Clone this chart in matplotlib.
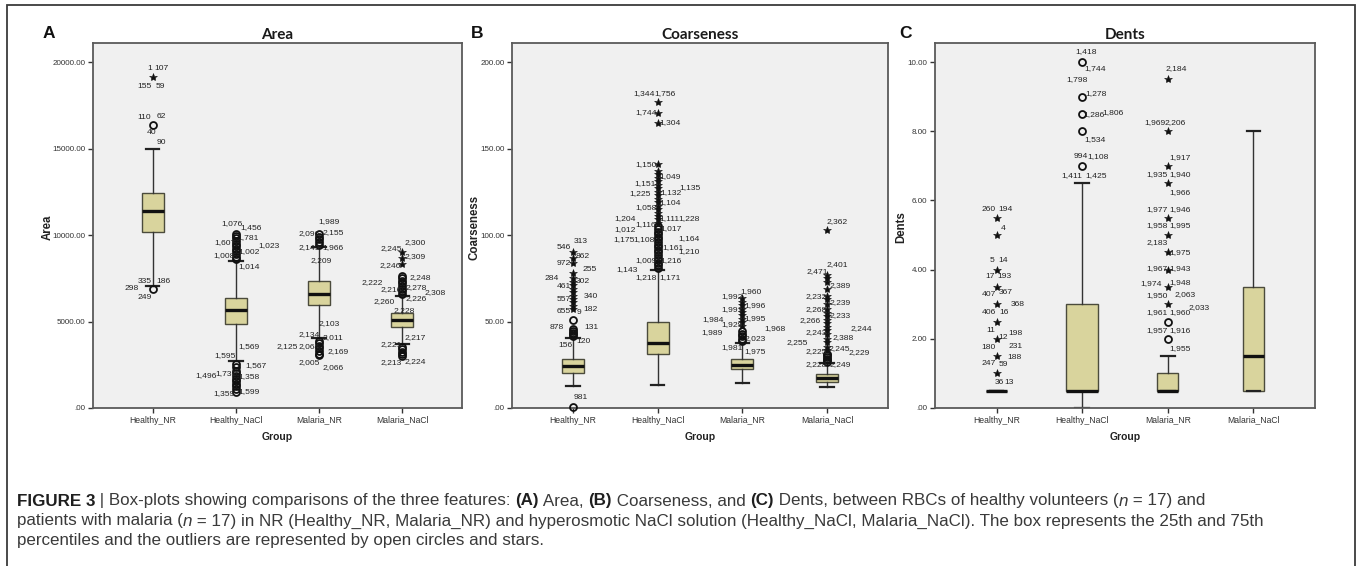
import matplotlib
matplotlib.use('Agg')
import matplotlib.pyplot as plt
from matplotlib.patches import Rectangle

groups = ['Healthy_NR', 'Healthy_NaCl', 'Malaria_NR', 'Malaria_NaCl']

# ---------------- Area ----------------
area_whislo = [7050, 2700, 4050, 3700]
area_q1 = [10170, 4860, 5950, 4680]
area_med = [11390, 5670, 6590, 5090]
area_q3 = [12430, 6360, 7340, 5490]
area_whishi = [15000, 8500, 9300, 6450]
area_circles = [
    [6900, 16350],
    [8600, 8750, 8900, 9050, 9200, 9350, 9500, 9650, 9800, 9950, 10050,
     2550, 2350, 2150, 2000, 1850, 1700, 1550, 1400, 1250, 1100, 950],
    [9450, 9600, 9750, 9900, 10050, 3900, 3750, 3600, 3450, 3300, 3150, 3050],
    [6600, 6750, 6900, 7050, 7200, 7350, 7500, 7650, 3550, 3400, 3250, 3100, 3000],
]
area_stars = [[19130], [], [], [8320, 8670, 9020]]
area_labels = [
    (0, '1', 19650, -5), (0, '107', 19650, 2), (0, '155', 18610, -15), (0, '59', 18610, 3),
    (0, '110', 16820, -15), (0, '62', 16880, 4), (0, '40', 15900, -6), (0, '90', 15370, 4),
    (0, '335', 7340, -15), (0, '186', 7340, 4), (0, '298', 6880, -28), (0, '249', 6360, -15),
    (1, '1,076', 10690, -15), (1, '1,456', 10460, 4), (1, '1,607', 9590, -22), (1, '1,781', 9830, 1),
    (1, '1,023', 9420, 22), (1, '1,002', 9070, 2), (1, '1,008', 8790, -23), (1, '1,014', 8150, 2),
    (1, '1,569', 3580, 2), (1, '1,595', 3060, -22), (1, '1,567', 2430, 9), (1, '1,496', 1850, -41),
    (1, '1,731', 2020, -21), (1, '1,358', 1790, 2), (1, '1,599', 980, 2), (1, '1,359', 810, -23),
    (2, '1,989', 10750, -1), (2, '2,096', 10060, -21), (2, '2,155', 10120, 3), (2, '2,149', 9250, -21),
    (2, '1,966', 9250, 3), (2, '2,209', 8550, -9), (2, '2,103', 4910, -1), (2, '2,134', 4220, -21),
    (2, '2,011', 4050, 3), (2, '2,125', 3530, -43), (2, '2,064', 3530, -21), (2, '2,169', 3290, 8),
    (2, '2,005', 2600, -21), (2, '2,066', 2310, 3),
    (3, '2,245', 9190, -22), (3, '2,300', 9540, 2), (3, '2,309', 8730, 2), (3, '2,246', 8210, -23),
    (3, '2,248', 7570, 7), (3, '2,222', 7280, -41), (3, '2,216', 6820, -22), (3, '2,278', 6940, 3),
    (3, '2,308', 6700, 22), (3, '2,260', 6130, -29), (3, '2,226', 6300, 3), (3, '2,228', 5660, -9),
    (3, '2,217', 4100, 2), (3, '2,221', 3640, -22), (3, '2,213', 2600, -22), (3, '2,224', 2660, 2),
]
area_ticks = [0, 5000, 10000, 15000, 20000]
area_ticklabels = ['.00', '5000.00', '10000.00', '15000.00', '20000.00']

# ---------------- Coarseness ----------------
coarse_whislo = [12.7, 13.3, 14.5, 12.0]
coarse_q1 = [20.2, 31.2, 22.5, 15.2]
coarse_med = [24.3, 37.6, 24.9, 17.3]
coarse_q3 = [28.3, 49.7, 28.3, 19.6]
coarse_whishi = [40.5, 79.5, 37.5, 26.0]
coarse_circles = [
    [0.5, 41.5, 42.5, 43.5, 44.5, 45.5, 51],
    [81, 82.5, 84, 85.5, 87, 88.5, 90, 91.5, 93, 94.5, 96, 97.5, 99, 100.5, 102, 103.5, 105],
    [38.5, 40, 41.5, 43, 44.5],
    [26.5, 27.5, 28.5, 29.5, 30.5, 31.5],
]
coarse_stars = [
    [57.5, 59, 61, 63, 65, 67, 69, 71, 73, 75, 78, 84, 87, 90],
    [107, 109, 111, 113, 115, 117, 119, 121, 123, 125, 127, 129, 131, 133, 135, 137, 141,
     165, 170.5, 177],
    [47.5, 49.5, 51.5, 53.5, 55.5, 57.5, 59.5, 61.5, 63.5],
    [33.5, 35.5, 38, 40, 43, 45, 47, 49, 51, 53, 55, 57, 60, 63, 65, 69, 73, 75, 77, 103],
]
coarse_labels = [
    (0, '546', 93, -16), (0, '313', 96.5, 1), (0, '862', 87.3, 3), (0, '972', 83.8, -16),
    (0, '255', 80.3, 10), (0, '284', 74.6, -28), (0, '461', 70.5, -16), (0, '302', 73.4, 3),
    (0, '557', 63, -16), (0, '340', 64.2, 11), (0, '655', 56, -16), (0, '9', 55, 4),
    (0, '182', 57.2, 10), (0, '878', 46.8, -23), (0, '131', 46.8, 11), (0, '156', 36.4, -15),
    (0, '120', 38.2, 3), (0, '981', 5.8, 1),
    (1, '1,344', 182, -24), (1, '1,756', 182, -3), (1, '1,744', 171, -22), (1, '1,304', 165, 2),
    (1, '1,150', 141, -22), (1, '1,049', 134, 2), (1, '1,151', 130, -23), (1, '1,225', 123.7, -28),
    (1, '1,132', 124.3, 3), (1, '1,135', 127.7, 22), (1, '1,058', 115.6, -22), (1, '1,104', 118.5, 2),
    (1, '1,204', 109.8, -43), (1, '1,116', 105.8, -22), (1, '1,111', 109.8, 2), (1, '1,228', 109.8, 21),
    (1, '1,012', 102.9, -43), (1, '1,017', 103.5, 3), (1, '1,175', 97.1, -44), (1, '1,108', 97.1, -24),
    (1, '1,164', 97.7, 21), (1, '1,161', 93, 5), (1, '1,210', 90.2, 21), (1, '1,009', 85.5, -22),
    (1, '1,216', 85.5, 3), (1, '1,143', 80.3, -41), (1, '1,218', 75.7, -22), (1, '1,171', 75.7, 2),
    (2, '1,960', 67.6, -2), (2, '1,992', 64.2, -21), (2, '1,996', 59.5, 2), (2, '1,991', 57.2, -21),
    (2, '1,995', 52, 2), (2, '1,984', 50.9, -40), (2, '1,929', 48, -21), (2, '1,968', 45.7, 22),
    (2, '1,989', 43.4, -41), (2, '2,023', 39.9, 2), (2, '1,981', 34.7, -21), (2, '1,975', 32.4, 2),
    (3, '2,362', 108, -1), (3, '2,471', 78.6, -21), (3, '2,401', 82.7, -1), (3, '2,389', 70.5, 2),
    (3, '2,232', 64.2, -22), (3, '2,239', 60.7, 2), (3, '2,268', 57.2, -22), (3, '2,233', 53.2, 2),
    (3, '2,266', 50.3, -28), (3, '2,244', 46.2, 23), (3, '2,243', 43.4, -22), (3, '2,388', 41, 5),
    (3, '2,255', 37.6, -41), (3, '2,225', 32.4, -22), (3, '2,245', 34.1, 1), (3, '2,229', 31.8, 21),
    (3, '2,228', 25.4, -22), (3, '2,249', 25.4, 2),
]
coarse_ticks = [0, 50, 100, 150, 200]
coarse_ticklabels = ['.00', '50.00', '100.00', '150.00', '200.00']

# ---------------- Dents ----------------
dents_whislo = [0.5, 0.0, 0.5, 0.5]
dents_q1 = [0.5, 0.5, 0.5, 0.5]
dents_med = [0.5, 0.5, 0.5, 1.5]
dents_q3 = [0.5, 3.0, 1.0, 3.5]
dents_whishi = [0.5, 6.5, 1.5, 8.0]
dents_circles = [[], [7.0, 8.0, 8.5, 9.0, 10.0], [2.0, 2.5], []]
dents_stars = [
    [1.0, 1.5, 2.0, 2.5, 3.0, 3.5, 4.0, 5.0, 5.5],
    [],
    [3.0, 3.5, 4.0, 4.5, 5.0, 5.5, 6.5, 7.0, 8.0, 9.5],
    [],
]
dents_labels = [
    (0, '260', 5.75, -15), (0, '194', 5.75, 2), (0, '4', 5.2, 4), (0, '5', 4.25, -7),
    (0, '14', 4.25, 2), (0, '17', 3.79, -11), (0, '193', 3.79, 1), (0, '407', 3.27, -15),
    (0, '367', 3.35, 2), (0, '368', 3.0, 14), (0, '406', 2.75, -15), (0, '16', 2.75, 3),
    (0, '11', 2.25, -10), (0, '12', 2.05, 2), (0, '198', 2.14, 12), (0, '180', 1.76, -15),
    (0, '231', 1.79, 12), (0, '188', 1.45, 11), (0, '247', 1.3, -15), (0, '59', 1.27, 2),
    (0, '36', 0.75, -2), (0, '13', 0.75, 8),
    (1, '1,418', 10.29, -7), (1, '1,744', 9.8, 2), (1, '1,798', 9.48, -16), (1, '1,278', 9.1, 3),
    (1, '1,286', 8.47, 1), (1, '1,806', 8.53, 20), (1, '1,534', 7.77, 2), (1, '994', 7.28, -9),
    (1, '1,108', 7.28, 5), (1, '1,411', 6.73, -21), (1, '1,425', 6.73, 3),
    (2, '2,184', 9.8, -2), (2, '1,969', 8.24, -23), (2, '2,206', 8.24, -3), (2, '1,917', 7.25, 2),
    (2, '1,935', 6.76, -21), (2, '1,940', 6.76, 2), (2, '1,966', 6.24, 2), (2, '1,977', 5.75, -21),
    (2, '1,946', 5.75, 2), (2, '1,958', 5.26, -21), (2, '1,995', 5.26, 2), (2, '2,183', 4.77, -21),
    (2, '1,975', 4.5, 2), (2, '1,967', 4.02, -21), (2, '1,943', 4.02, 2), (2, '1,974', 3.61, -27),
    (2, '1,948', 3.64, 2), (2, '1,950', 3.24, -21), (2, '2,063', 3.29, 7), (2, '1,961', 2.75, -21),
    (2, '1,960', 2.75, 2), (2, '2,033', 2.89, 21), (2, '1,957', 2.25, -21), (2, '1,916', 2.25, 2),
    (2, '1,955', 1.73, 2),
]
dents_ticks = [0, 2, 4, 6, 8, 10]
dents_ticklabels = ['.00', '2.00', '4.00', '6.00', '8.00', '10.00']

caption_lines = [
    [('FIGURE 3', 'bold', 'normal'), (' | Box-plots showing comparisons of the three features: ', 'normal', 'normal'),
     ('(A)', 'bold', 'normal'), (' Area, ', 'normal', 'normal'), ('(B)', 'bold', 'normal'),
     (' Coarseness, and ', 'normal', 'normal'), ('(C)', 'bold', 'normal'),
     (' Dents, between RBCs of healthy volunteers (', 'normal', 'normal'), ('n', 'normal', 'italic'),
     (' = 17) and', 'normal', 'normal')],
    [('patients with malaria (', 'normal', 'normal'), ('n', 'normal', 'italic'),
     (' = 17) in NR (Healthy_NR, Malaria_NR) and hyperosmotic NaCl solution (Healthy_NaCl, Malaria_NaCl). '
      'The box represents the 25th and 75th', 'normal', 'normal')],
    [('percentiles and the outliers are represented by open circles and stars.', 'normal', 'normal')],
]

# ---------------- drawing ----------------
W, H = 1357, 566
fig = plt.figure(figsize=(W / 100, H / 100), dpi=100)
fig.patch.set_facecolor('white')

NARROW = ['Liberation Sans Narrow', 'Liberation Sans', 'DejaVu Sans']
CAPFONT = ['Liberation Sans Narrow', 'Liberation Sans', 'DejaVu Sans']
ARIAL = ['Liberation Sans', 'DejaVu Sans']
BOX_FACE = '#d9d49d'
BOX_EDGE = '#4b4b3c'


def fx(px):
    return px / W


def fy(py):
    return 1 - py / H


# outer frame
fig.patches.append(Rectangle((fx(7), fy(575)), fx(1355) - fx(7), fy(5) - fy(575),
                             transform=fig.transFigure, fill=False, edgecolor='#3a3a3a',
                             linewidth=1.3, zorder=0))

panels = [
    dict(left=93, right=462, title='Area', letter='A', letter_x=43, ylabel='Area', ylabel_x=48,
         ymax=21100, whislo=area_whislo, q1=area_q1, med=area_med, q3=area_q3, whishi=area_whishi,
         circles=area_circles, stars=area_stars, labels=area_labels, ticks=area_ticks,
         ticklabels=area_ticklabels, widths=[0.26, 0.26, 0.26, 0.26]),
    dict(left=512, right=888, title='Coarseness', letter='B', letter_x=471, ylabel='Coarseness',
         ylabel_x=475, ymax=211, whislo=coarse_whislo, q1=coarse_q1, med=coarse_med, q3=coarse_q3,
         whishi=coarse_whishi, circles=coarse_circles, stars=coarse_stars, labels=coarse_labels,
         ticks=coarse_ticks, ticklabels=coarse_ticklabels, widths=[0.26, 0.26, 0.26, 0.26]),
    dict(left=935, right=1315, title='Dents', letter='C', letter_x=899, ylabel='Dents', ylabel_x=901,
         ymax=10.55, whislo=dents_whislo, q1=dents_q1, med=dents_med, q3=dents_q3,
         whishi=dents_whishi, circles=dents_circles, stars=dents_stars, labels=dents_labels,
         ticks=dents_ticks, ticklabels=dents_ticklabels, widths=[0.25, 0.38, 0.25, 0.25]),
]

TOP, BOT = 43, 408
positions = [1, 2, 3, 4]
for p in panels:
    ax = fig.add_axes([fx(p['left']), fy(BOT), fx(p['right']) - fx(p['left']), fy(TOP) - fy(BOT)])
    ax.set_facecolor('#f0f0f0')
    stats = []
    for i, g in enumerate(groups):
        stats.append(dict(label=g, whislo=p['whislo'][i], q1=p['q1'][i], med=p['med'][i],
                          q3=p['q3'][i], whishi=p['whishi'][i], fliers=[]))
    ax.bxp(stats, positions=positions, widths=p['widths'], capwidths=0.16, patch_artist=True,
           showfliers=False,
           boxprops=dict(facecolor=BOX_FACE, edgecolor=BOX_EDGE, linewidth=1.0),
           medianprops=dict(color='#111111', linewidth=2.4, solid_capstyle='butt'),
           whiskerprops=dict(color='#333333', linewidth=1.0),
           capprops=dict(color='#222222', linewidth=1.6))
    for i in range(4):
        if p['circles'][i]:
            ax.plot([positions[i]] * len(p['circles'][i]), p['circles'][i], linestyle='none',
                    marker='o', markersize=5.0, markerfacecolor='none', markeredgecolor='#111111',
                    markeredgewidth=1.3, zorder=4, clip_on=False)
        if p['stars'][i]:
            ax.plot([positions[i]] * len(p['stars'][i]), p['stars'][i], linestyle='none',
                    marker='*', markersize=6.0, color='#111111', markeredgewidth=0.4, zorder=4)
    for g, txt, yv, dx in p['labels']:
        ax.annotate(txt, xy=(positions[g], yv), xytext=(dx, 0), textcoords='offset pixels',
                    ha='left', va='center', fontsize=6.1, family=NARROW, color='#222222', zorder=5)
    ax.set_xlim(0.28, 4.72)
    ax.set_ylim(0, p['ymax'])
    ax.set_yticks(p['ticks'])
    ax.set_yticklabels(p['ticklabels'], family=NARROW, fontsize=5.8, color='#333333')
    ax.set_xticks(positions)
    ax.set_xticklabels(groups, family=NARROW, fontsize=6.2, color='#333333')
    ax.tick_params(axis='both', direction='out', length=3.5, width=1.0, color='#333333', pad=2)
    for s in ax.spines.values():
        s.set_color('#5a5a5a')
        s.set_linewidth(1.3)
    cx = (p['left'] + p['right']) / 2
    fig.text(fx(cx), fy(35), p['title'], ha='center', va='center', fontsize=11,
             fontweight='bold', family=['Lato', 'DejaVu Sans'], color='#1a1a1a')
    fig.text(fx(p['letter_x']), fy(34), p['letter'], ha='left', va='center', fontsize=12.5,
             fontweight='bold', family=ARIAL, color='#111111')
    fig.text(fx(p['ylabel_x']), fy((TOP + BOT) / 2 + 2), p['ylabel'], rotation=90, ha='center',
             va='center', fontsize=8.3, fontweight='bold', family=ARIAL, color='#222222')
    fig.text(fx(cx), fy(437), 'Group', ha='center', va='center', fontsize=7.5,
             fontweight='bold', family=ARIAL, color='#222222')

# caption, measured and fitted to the reference line extents
renderer = fig.canvas.get_renderer()


def line_width(line, fs):
    total = 0
    tmp = []
    for txt, wt, st in line:
        t = fig.text(0, 0, txt, fontsize=fs, fontweight=wt, fontstyle=st, family=CAPFONT)
        total += t.get_window_extent(renderer).width
        tmp.append(t)
    for t in tmp:
        t.remove()
    return total


base = 10.0
w1 = line_width(caption_lines[0], base)
w2 = line_width(caption_lines[1], base)
# compromise between the two reference line ends (x=1133 and x=1333)
cap_fs = base * 0.5 * ((1133 - 17) / w1 + (1333 - 17) / w2)

for li, line in enumerate(caption_lines):
    xpos = 17
    ypos = [501, 521, 541][li]
    for txt, wt, st in line:
        col = '#1f1f1f' if wt == 'bold' else '#3a3a3a'
        t = fig.text(fx(xpos), fy(ypos), txt, fontsize=cap_fs, fontweight=wt, fontstyle=st,
                     family=CAPFONT, color=col, ha='left', va='center')
        xpos += t.get_window_extent(renderer).width

fig.savefig('out.png', dpi=100, facecolor='white')
